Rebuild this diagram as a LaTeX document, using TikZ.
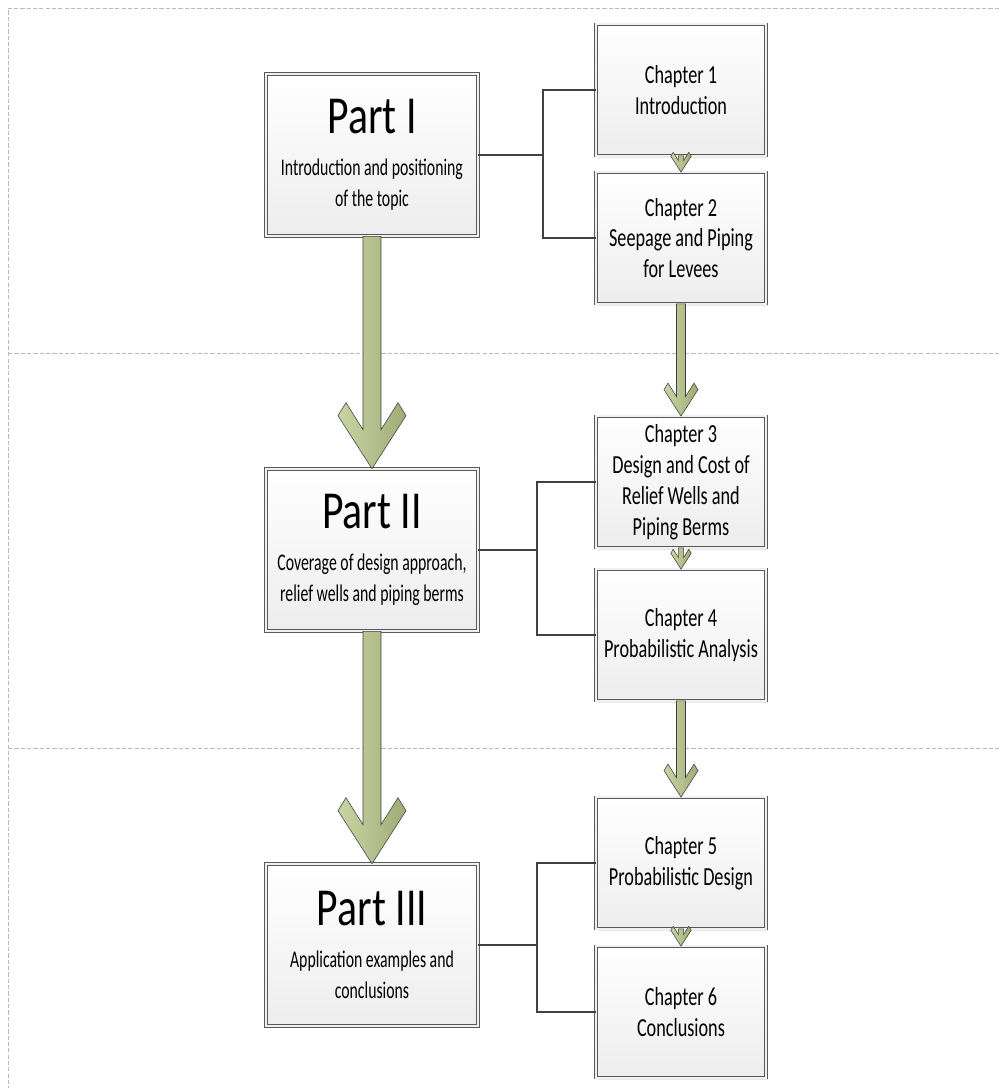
\documentclass[tikz,border=0pt]{standalone}
\usepackage{fontspec}
\setmainfont{Carlito}[FakeStretch=0.7]
\newfontfamily\titlefont{Carlito}[FakeStretch=0.78]
\newfontfamily\subfont{Carlito}[FakeStretch=0.66]
\usetikzlibrary{calc,shadows}

\definecolor{leafgreen}{RGB}{187,202,140}

\tikzset{
  box/.style={top color=white, bottom color=gray!14,
    drop shadow={shadow xshift=1.5pt,shadow yshift=-1.5pt,fill=gray!35},
    postaction={draw=gray!70!black, line width=0.5pt, double=gray!12, double distance=1.3pt},
    align=center, inner sep=2pt},
  partbox/.style={box, minimum width=5.3cm, minimum height=4.05cm,
    font=\subfont\fontsize{17}{22}\selectfont},
  chapbox/.style={box, minimum width=4.25cm, minimum height=3.28cm,
    font=\fontsize{18.5}{22}\selectfont},
  guide/.style={gray!55, dash pattern=on 3pt off 1.5pt, line width=0.6pt},
  link/.style={draw=black!75, line width=0.8pt},
  greenarrow/.style={draw=gray!50!black, line width=0.4pt, line join=miter,
    left color=leafgreen!80!white, right color=leafgreen!85!black}
}

% fat arrow from one box down to the next (#3 = size)
\newcommand{\leafarrow}[3]{%
  \draw[greenarrow] ($(#1.south)+(-9*#3,0)$) -- ($(#2.north)+(-9*#3,-39*#3)$)
    -- ++(-17*#3,-27*#3) -- ++(-8*#3,13*#3) -- (#2.north)
    -- ++(34*#3,-53*#3) -- ++(-8*#3,-13*#3) -- ++(-17*#3,27*#3)
    -- ($(#1.south)+(9*#3,0)$) -- cycle;}

\newcommand{\parttitle}[1]{{\titlefont\fontsize{38}{38}\selectfont #1}\\[8pt]}

\begin{document}
\begin{tikzpicture}[x=0.025cm,y=-0.025cm]
	\useasboundingbox (0,0) rectangle (999,1088);
	% page guides
	\draw[guide] (999,8) -- (8,8) -- (8,1088);
	\draw[guide] (8,353) -- (999,353);
	\draw[guide] (8,748) -- (999,748);

	% parts
	\node[partbox] (p1) at (372,155) {\parttitle{Part I}Introduction and positioning\\of the topic};
	\node[partbox] (p2) at (372,550) {\parttitle{Part II}Coverage of design approach,\\relief wells and piping berms};
	\node[partbox] (p3) at (372,945) {\parttitle{Part III}Application examples and\\conclusions};

	% chapters
	\node[chapbox] (c1) at (681,90) {Chapter 1\\Introduction};
	\node[chapbox] (c2) at (681,238) {Chapter 2\\Seepage and Piping\\for Levees};
	\node[chapbox] (c3) at (681,482) {Chapter 3\\Design and Cost of\\Relief Wells and\\Piping Berms};
	\node[chapbox] (c4) at (681,635) {Chapter 4\\Probabilistic Analysis};
	\node[chapbox] (c5) at (681,863) {Chapter 5\\Probabilistic Design};
	\node[chapbox] (c6) at (681,1012) {Chapter 6\\Conclusions};

	% brackets
	\coordinate (j1) at (543,155);
	\coordinate (j2) at (537,550);
	\coordinate (j3) at (537,945);
	\draw[link] (p1.east) -- (j1);
	\draw[link] (c1.west) -| (j1) |- (c2.west);
	\draw[link] (p2.east) -- (j2);
	\draw[link] (c3.west) -| (j2) |- (c4.west);
	\draw[link] (p3.east) -- (j3);
	\draw[link] (c5.west) -| (j3) |- (c6.west);

	% arrows
	\leafarrow{p1}{p2}{1}
	\leafarrow{p2}{p3}{1}
	\leafarrow{c2}{c3}{0.5}
	\leafarrow{c4}{c5}{0.5}
	\leafarrow{c1}{c2}{0.3}
	\leafarrow{c3}{c4}{0.3}
	\leafarrow{c5}{c6}{0.3}
\end{tikzpicture}
\end{document}
